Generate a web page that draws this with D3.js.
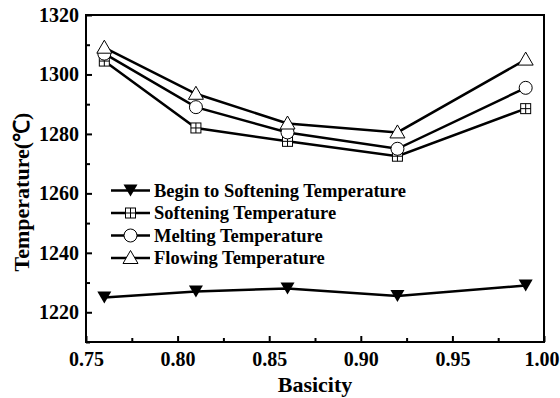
<!DOCTYPE html>
<html>
<head>
<meta charset="utf-8">
<script src="https://cdn.jsdelivr.net/npm/d3@7"></script>
<style>
  body { margin: 0; background: #fff; }
</style>
</head>
<body>
<div id="chart"></div>
<script>
const basicity = [0.76, 0.81, 0.86, 0.92, 0.99];
const beginSoftening = [1225, 1227, 1228, 1225.5, 1229];
const softening = [1304.5, 1282, 1277.5, 1272.5, 1288.5];
const melting = [1307, 1289, 1280.5, 1275, 1295.5];
const flowing = [1309, 1293.5, 1283.5, 1280.5, 1305];
const seriesNames = ['Begin to Softening Temperature', 'Softening Temperature', 'Melting Temperature', 'Flowing Temperature'];
const xTicks = [0.75, 0.80, 0.85, 0.90, 0.95, 1.00];
const yTicks = [1220, 1240, 1260, 1280, 1300, 1320];

const FONT = "'Liberation Serif', 'Times New Roman', serif";
const W = 560, H = 398;
const margin = { top: 15, right: 16, bottom: 56, left: 86 };
const width = W - margin.left - margin.right;
const height = H - margin.top - margin.bottom;

const svg = d3.select('#chart').append('svg')
    .attr('width', W)
    .attr('height', H);

const g = svg.append('g')
    .attr('transform', `translate(${margin.left},${margin.top})`);

const x = d3.scaleLinear().domain([0.75, 1.0]).range([0, width]);
const y = d3.scaleLinear().domain([1210, 1320]).range([height, 0]);

// petits ticks intermédiaires
g.append('g')
    .attr('transform', `translate(0,${height})`)
    .call(d3.axisBottom(x).tickValues(d3.range(0.775, 1.0, 0.05)).tickSize(-4).tickFormat(''))
    .call(a => a.select('.domain').remove())
    .selectAll('line').attr('stroke-width', 2);
g.append('g')
    .call(d3.axisLeft(y).tickValues(d3.range(1210, 1320, 20)).tickSize(-4).tickFormat(''))
    .call(a => a.select('.domain').remove())
    .selectAll('line').attr('stroke-width', 2);

// axes principaux
const xAxis = g.append('g')
    .attr('transform', `translate(0,${height})`)
    .call(d3.axisBottom(x).tickValues(xTicks).tickSize(-6).tickPadding(10).tickFormat(d3.format('.2f')));
const yAxis = g.append('g')
    .call(d3.axisLeft(y).tickValues(yTicks).tickSize(-6).tickPadding(7).tickFormat(d3.format('d')));
[xAxis, yAxis].forEach(a => {
    a.attr('font-family', null);
    a.select('.domain').remove();
    a.selectAll('line').attr('stroke-width', 2);
    a.selectAll('text')
        .style('font-size', '20px')
        .style('font-family', FONT)
        .style('font-weight', 'bold')
        .attr('fill', '#000');
});
// le dernier label touche le bord droit
xAxis.selectAll('text').filter(d => d === 1.0).attr('dx', -2.5);

// cadre
g.append('rect')
    .attr('width', width).attr('height', height)
    .attr('fill', 'none').attr('stroke', '#000').attr('stroke-width', 2);

// titres des axes
svg.append('text')
    .attr('x', margin.left + width / 2).attr('y', 392)
    .attr('text-anchor', 'middle')
    .style('font-family', FONT).style('font-weight', 'bold')
    .style('font-size', '22px')
    .text('Basicity');
svg.append('text')
    .attr('transform', 'translate(29,192) rotate(-90)')
    .attr('text-anchor', 'middle')
    .style('font-family', FONT).style('font-weight', 'bold')
    .style('font-size', '22px')
    .text('Temperature(℃)');

const series = [
    { name: seriesNames[0], values: beginSoftening, marker: 'down' },
    { name: seriesNames[1], values: softening, marker: 'squarecross' },
    { name: seriesNames[2], values: melting, marker: 'circle' },
    { name: seriesNames[3], values: flowing, marker: 'up' }
];

function drawMarker(sel, type) {
    if (type === 'down') {
        sel.append('path').attr('d', 'M-7,-6L7,-6L0,6Z').attr('fill', '#000');
    } else if (type === 'up') {
        sel.append('path').attr('d', 'M0,-7.5L7.5,5.5L-7.5,5.5Z').attr('fill', '#fff').attr('stroke', '#000').attr('stroke-width', 1);
    } else if (type === 'circle') {
        sel.append('circle').attr('r', 6.5).attr('fill', '#fff').attr('stroke', '#000').attr('stroke-width', 1);
    } else {
        sel.append('rect').attr('x', -5).attr('y', -5).attr('width', 10).attr('height', 10)
            .attr('fill', '#fff').attr('stroke', '#000').attr('stroke-width', 1);
        sel.append('path').attr('d', 'M0,-5V5M-5,0H5').attr('stroke', '#000').attr('stroke-width', 1);
    }
}

const line = d3.line().x(d => x(d[0])).y(d => y(d[1]));

series.forEach(s => {
    const pts = basicity.map((b, i) => [b, s.values[i]]);
    g.append('path')
        .datum(pts)
        .attr('d', line)
        .attr('fill', 'none')
        .attr('stroke', '#000')
        .attr('stroke-width', 2.5);
});
series.forEach(s => {
    const pts = basicity.map((b, i) => [b, s.values[i]]);
    g.selectAll(null)
        .data(pts)
      .enter().append('g')
        .attr('transform', d => `translate(${x(d[0])},${y(d[1])})`)
        .each(function() { drawMarker(d3.select(this), s.marker); });
});

// légende
const legend = svg.append('g').attr('transform', 'translate(111,190.5)');
series.forEach((s, i) => {
    const row = legend.append('g').attr('transform', `translate(0,${i * 22.5})`);
    row.append('line').attr('x1', 0).attr('x2', 39).attr('stroke', '#000').attr('stroke-width', 2.5);
    drawMarker(row.append('g').attr('transform', 'translate(19.5,0)'), s.marker);
    row.append('text')
        .attr('x', 43).attr('y', 6)
        .style('font-family', FONT).style('font-weight', 'bold')
        .style('font-size', '18.5px')
        .text(s.name);
});
</script>
</body>
</html>
